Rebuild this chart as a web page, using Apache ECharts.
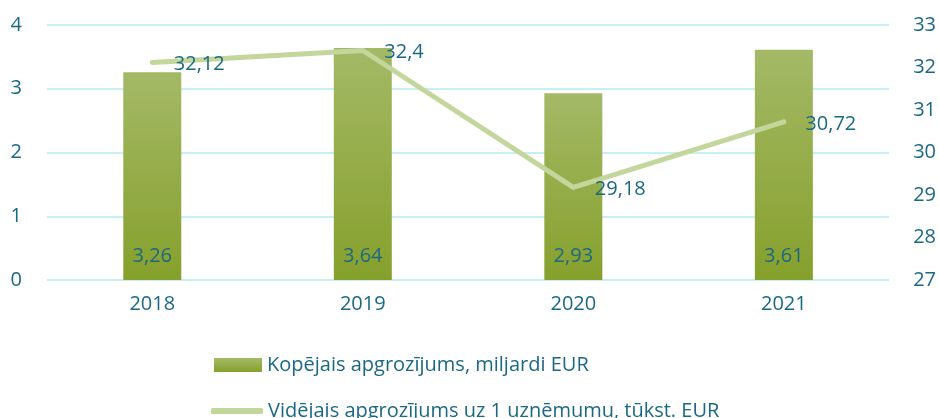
<!DOCTYPE html>
<html>
<head>
<meta charset="utf-8">
<script src="https://cdn.jsdelivr.net/npm/echarts@6/dist/echarts.min.js"></script>
<style>html,body{margin:0;padding:0;background:#fff}#c{width:939px;height:418px}</style>
</head>
<body>
<div id="c"></div>
<script>
const categories = ['2018', '2019', '2020', '2021'];
const totalTurnover = [3.26, 3.64, 2.93, 3.61];
const avgTurnover = [32.12, 32.4, 29.18, 30.72];
const leftTicks = [0, 4, 1];
const rightTicks = [27, 33, 1];
const seriesNames = ['Kopējais apgrozījums, miljardi EUR', 'Vidējais apgrozījums uz 1 uzņēmumu, tūkst. EUR'];

const teal = '#1B6882';
const lineColor = '#C3D69B';
const font = 'Open Sans';
const fs = 20;
const fmt = v => String(v).replace('.', ',');

const chart = echarts.init(document.getElementById('c'), null, {renderer: 'canvas'});
chart.setOption({
  animation: false,
  textStyle: {fontFamily: font},
  grid: {left: 47, right: 48, top: 25, bottom: 138},
  legend: [{
    left: 214, top: 355, padding: 0,
    itemWidth: 48, itemHeight: 14, itemGap: 4,
    textStyle: {color: teal, fontSize: fs, fontFamily: font},
    data: [{name: seriesNames[0], icon: 'rect'}]
  }, {
    left: 211, top: 401, padding: 0,
    itemWidth: 52, itemHeight: 6, itemGap: 4,
    textStyle: {color: teal, fontSize: fs, fontFamily: font},
    data: [{name: seriesNames[1], icon: 'roundRect', itemStyle: {color: lineColor}}]
  }],
  xAxis: {
    type: 'category', data: categories,
    axisLine: {show: false}, axisTick: {show: false},
    axisLabel: {color: teal, fontSize: fs, margin: 14}
  },
  yAxis: [{
    type: 'value', min: leftTicks[0], max: leftTicks[1], interval: leftTicks[2],
    axisLabel: {color: teal, fontSize: fs, margin: 25},
    splitLine: {lineStyle: {color: '#C8EEF8', width: 2}}
  }, {
    type: 'value', min: rightTicks[0], max: rightTicks[1], interval: rightTicks[2],
    axisLabel: {color: teal, fontSize: fs, margin: 24},
    splitLine: {show: false}
  }],
  series: [{
    name: seriesNames[0], type: 'bar', yAxisIndex: 0, data: totalTurnover, barWidth: 58,
    itemStyle: {color: new echarts.graphic.LinearGradient(0, 0, 0, 1, [
      {offset: 0, color: '#A4B966'}, {offset: 1, color: '#86A02C'}])},
    label: {show: true, position: 'insideBottom', distance: 14, color: teal, fontSize: fs,
      formatter: p => fmt(p.value)}
  }, {
    name: seriesNames[1], type: 'line', yAxisIndex: 1, data: avgTurnover,
    symbol: 'circle', symbolSize: 1, showSymbol: true,
    lineStyle: {color: lineColor, width: 5, cap: 'round', join: 'round'}, itemStyle: {color: lineColor},
    label: {show: true, position: 'right', distance: 21, offset: [0, 2], color: teal, fontSize: fs,
      formatter: p => fmt(p.value)}
  }]
});
</script>
</body>
</html>
